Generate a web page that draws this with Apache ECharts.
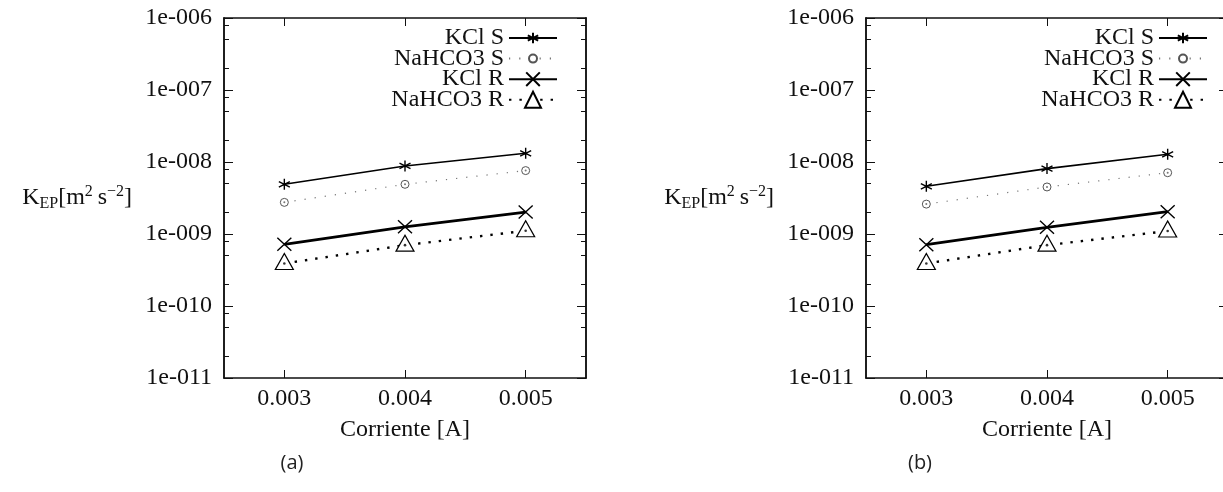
<!DOCTYPE html>
<html>
<head>
<meta charset="utf-8">
<script src="https://cdn.jsdelivr.net/npm/echarts@6/dist/echarts.min.js"></script>
<style>
  html, body { margin: 0; padding: 0; background: #fff; overflow: hidden; }
  #chart { width: 1223px; height: 492px; }
</style>
</head>
<body>
<div id="chart"></div>
<script>
// Current values (A) shared by every series
const currents = [0.003, 0.004, 0.005];
const seriesNames = ['KCl S', 'NaHCO3 S', 'KCl R', 'NaHCO3 R'];

// Panel (a): K_EP values
const kclS_a     = [4.9e-9, 8.8e-9, 1.32e-8];
const nahco3S_a  = [2.75e-9, 4.9e-9, 7.6e-9];
const kclR_a     = [7.2e-10, 1.26e-9, 2.02e-9];
const nahco3R_a  = [3.9e-10, 7.0e-10, 1.11e-9];

// Panel (b): K_EP values
const kclS_b     = [4.6e-9, 8.1e-9, 1.28e-8];
const nahco3S_b  = [2.6e-9, 4.5e-9, 7.1e-9];
const kclR_b     = [7.1e-10, 1.24e-9, 2.04e-9];
const nahco3R_b  = [3.9e-10, 7.0e-10, 1.10e-9];

// Ticks and labels
const xTicks = [0.003, 0.004, 0.005];
const xTickLabels = ['0.003', '0.004', '0.005'];
const yMajorTicks = [1e-11, 1e-10, 1e-9, 1e-8, 1e-7, 1e-6];
const yTickLabels = ['1e-011', '1e-010', '1e-009', '1e-008', '1e-007', '1e-006'];
const yMinorMantissas = [2, 5, 8];
const panelLabels = ['(a)', '(b)'];
const xAxisTitle = 'Corriente [A]';

const panelData = [
  [kclS_a, nahco3S_a, kclR_a, nahco3R_a],
  [kclS_b, nahco3S_b, kclR_b, nahco3R_b]
];

const SERIF = 'Liberation Serif';
const INK = '#111';

const yMinorTicks = [];
for (let d = 0; d < yMajorTicks.length - 1; d++) {
  yMinorMantissas.forEach(m => yMinorTicks.push(m * yMajorTicks[d]));
}

// Frame geometry of each panel (the second frame runs past the right edge)
const frames = [
  { left: 224, top: 18, width: 362, height: 360, legendRight: 665, caption: 292 },
  { left: 866, top: 18, width: 362, height: 360, legendRight: 15, caption: 920 }
];

const ASTERISK = 'path://M0,-10L0,10M-8.66,-5L8.66,5M-8.66,5L8.66,-5';
const CROSS = 'path://M-10,-10L10,10M-10,10L10,-10';

// Style of each series, in the order of seriesNames
const styles = [
  { symbol: ASTERISK, symbolSize: 11, legendH: 13,
    itemStyle: { color: '#000', borderColor: '#000', borderWidth: 1.4 },
    lineStyle: { color: '#000', width: 1.6, type: 'solid' } },
  { symbol: 'circle', symbolSize: 8, legendH: 10, dot: { color: '#555', size: 2 },
    itemStyle: { color: '#fff', borderColor: '#555', borderWidth: 1 },
    lineStyle: { color: '#777', width: 1.2, type: [1.2, 9] } },
  { symbol: CROSS, symbolSize: [14, 13], legendH: 17,
    itemStyle: { color: '#000', borderColor: '#000', borderWidth: 1.3 },
    lineStyle: { color: '#000', width: 2.8, type: 'solid' } },
  { symbol: 'triangle', symbolSize: [18, 16], symbolOffset: [0, -2], legendH: 20,
    dot: { color: '#000', size: 2.6 },
    itemStyle: { color: '#fff', borderColor: '#000', borderWidth: 1.2 },
    lineStyle: { color: '#000', width: 2.4, type: [2.4, 8] } }
];

function labelFor(list, labels, v) {
  const k = list.findIndex(t => Math.abs(Math.log10(t) - Math.log10(v)) < 1e-6);
  return k >= 0 ? labels[k] : '';
}

const option = {
  backgroundColor: '#fff',
  animation: false,
  grid: [], xAxis: [], yAxis: [], series: [], legend: [], graphic: []
};

const axisLineStyle = { color: INK, width: 1.5 };

frames.forEach((f, i) => {
  option.grid.push({ left: f.left, top: f.top, width: f.width, height: f.height,
    containLabel: false, outerBoundsMode: 'none' });

  const xBase = { type: 'value', gridIndex: i, min: 0.0025, max: 0.0055,
    splitLine: { show: false }, axisLine: { show: true, onZero: false, lineStyle: axisLineStyle } };
  // bottom axis
  option.xAxis.push(Object.assign({}, xBase, {
    position: 'bottom',
    name: xAxisTitle, nameLocation: 'middle', nameGap: 40,
    nameTextStyle: { fontFamily: SERIF, fontSize: 24, color: INK },
    axisTick: { show: true, inside: true, length: 8, customValues: xTicks, lineStyle: { color: INK, width: 1 } },
    axisLabel: { show: true, margin: 9, customValues: xTicks, fontFamily: SERIF, fontSize: 24, color: INK,
      formatter: v => { const k = xTicks.findIndex(t => Math.abs(t - v) < 1e-9); return k >= 0 ? xTickLabels[k] : ''; } }
  }));
  // top axis
  option.xAxis.push(Object.assign({}, xBase, {
    position: 'top',
    axisTick: { show: true, inside: true, length: 8, customValues: xTicks, lineStyle: { color: INK, width: 1 } },
    axisLabel: { show: false }
  }));

  const yBase = { type: 'log', logBase: 10, gridIndex: i, min: 1e-11, max: 1e-6,
    splitLine: { show: false }, axisLine: { show: true, onZero: false, lineStyle: axisLineStyle } };
  // left majors with labels and name
  option.yAxis.push(Object.assign({}, yBase, {
    position: 'left',
    name: '{k|K}{sub|EP}{n|[m}{sup|2}{n|\u2009s}{sup|\u22122}{n|]}',
    nameLocation: 'middle', nameRotate: 0, nameGap: 92,
    nameTextStyle: {
      color: INK,
      rich: {
        k:   { fontFamily: SERIF, fontSize: 24, lineHeight: 28, color: INK },
        n:   { fontFamily: SERIF, fontSize: 24, lineHeight: 28, color: INK },
        sub: { fontFamily: SERIF, fontSize: 16, lineHeight: 16, verticalAlign: 'bottom', color: INK },
        sup: { fontFamily: SERIF, fontSize: 16, lineHeight: 16, verticalAlign: 'top', color: INK }
      }
    },
    axisTick: { show: true, inside: true, length: 9, customValues: yMajorTicks, lineStyle: { color: INK, width: 1 } },
    axisLabel: { show: true, margin: 12, customValues: yMajorTicks, fontFamily: SERIF, fontSize: 24, color: INK,
      formatter: v => labelFor(yMajorTicks, yTickLabels, v) }
  }));
  // left minors
  option.yAxis.push(Object.assign({}, yBase, {
    position: 'left',
    axisTick: { show: true, inside: true, length: 5, customValues: yMinorTicks, lineStyle: { color: INK, width: 1 } },
    axisLabel: { show: false }
  }));
  // right majors
  option.yAxis.push(Object.assign({}, yBase, {
    position: 'right',
    axisTick: { show: true, inside: true, length: 9, customValues: yMajorTicks, lineStyle: { color: INK, width: 1 } },
    axisLabel: { show: false }
  }));
  // right minors
  option.yAxis.push(Object.assign({}, yBase, {
    position: 'right',
    axisTick: { show: true, inside: true, length: 5, customValues: yMinorTicks, lineStyle: { color: INK, width: 1 } },
    axisLabel: { show: false }
  }));

  panelData[i].forEach((vals, s) => {
    const st = styles[s];
    const pts = currents.map((c, k) => [c, vals[k]]);
    option.series.push({
      type: 'line', name: seriesNames[s], xAxisIndex: 2 * i, yAxisIndex: 4 * i,
      data: pts, symbol: st.symbol, symbolSize: st.symbolSize, symbolOffset: st.symbolOffset || [0, 0],
      showAllSymbol: true, symbolKeepAspect: false,
      itemStyle: st.itemStyle, lineStyle: st.lineStyle, z: 3 + s, silent: true
    });
    if (st.dot) {
      option.series.push({
        type: 'scatter', name: seriesNames[s] + ' centro', xAxisIndex: 2 * i, yAxisIndex: 4 * i,
        data: pts, symbol: 'circle', symbolSize: st.dot.size,
        itemStyle: { color: st.dot.color }, z: 10, silent: true
      });
    }
    // one legend row per series so each sample keeps its own marker size
    option.legend.push({
      data: [seriesNames[s]], orient: 'vertical', align: 'right',
      right: f.legendRight, top: 26 + 20.6 * s, padding: 0,
      itemWidth: 48, itemHeight: st.legendH, itemGap: 0, selectedMode: false,
      textStyle: { fontFamily: SERIF, fontSize: 24, lineHeight: 20, color: INK }
    });
  });

  option.graphic.push({
    type: 'text', x: f.caption, y: 463,
    style: { text: panelLabels[i], fontFamily: 'Open Sans', fontSize: 20, fill: '#222', align: 'center', verticalAlign: 'middle' }
  });
});

const chart = echarts.init(document.getElementById('chart'), null, { renderer: 'canvas' });
chart.setOption(option);
</script>
</body>
</html>
